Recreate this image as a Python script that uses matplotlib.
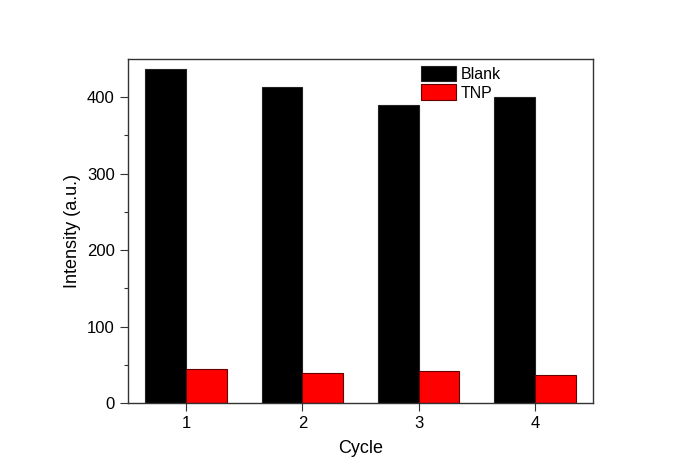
import numpy as np
import matplotlib.pyplot as plt

plt.rcParams['font.family'] = ['Liberation Sans', 'DejaVu Sans']

cycles = [1, 2, 3, 4]
blank = [437, 414, 390, 400]
tnp = [45, 39, 42, 36]

x = np.array(cycles, dtype=float)
w = 0.35

fig = plt.figure(figsize=(6.74, 4.75), dpi=100)
ax = fig.add_axes([128 / 674, 1 - 403 / 475, (593 - 128) / 674, (403 - 59) / 475])

ax.bar(x - w / 2, blank, w, color='black', edgecolor='#222222', linewidth=0.8, label='Blank')
ax.bar(x + w / 2, tnp, w, color='#ff0000', edgecolor='#660000', linewidth=0.8, label='TNP')

ax.set_xlim(0.5, 4.5)
ax.set_ylim(0, 450)
ax.set_xticks(cycles)
ax.set_yticks([0, 100, 200, 300, 400])
ax.set_yticks([50, 150, 250, 350], minor=True)
ax.tick_params(axis='both', direction='out', labelsize=12, length=6, width=0.8, color='#333333')
ax.tick_params(axis='y', which='minor', direction='out', length=3, width=0.8, color='#333333')
ax.set_xlabel('Cycle', fontsize=13, labelpad=6)
ax.set_ylabel('Intensity (a.u.)', fontsize=13)

for s in ax.spines.values():
    s.set_linewidth(1.0)
    s.set_color('#333333')

# legend sits inside the top of the frame, above bar 3
ax.legend(loc='upper left', bbox_to_anchor=(421 / 674, 1 - 66 / 475), bbox_transform=fig.transFigure,
          frameon=False, fontsize=11.5, borderpad=0, borderaxespad=0,
          handlelength=2.2, handleheight=1.1, labelspacing=0.15, handletextpad=0.3)

fig.savefig('out.png', dpi=100)
